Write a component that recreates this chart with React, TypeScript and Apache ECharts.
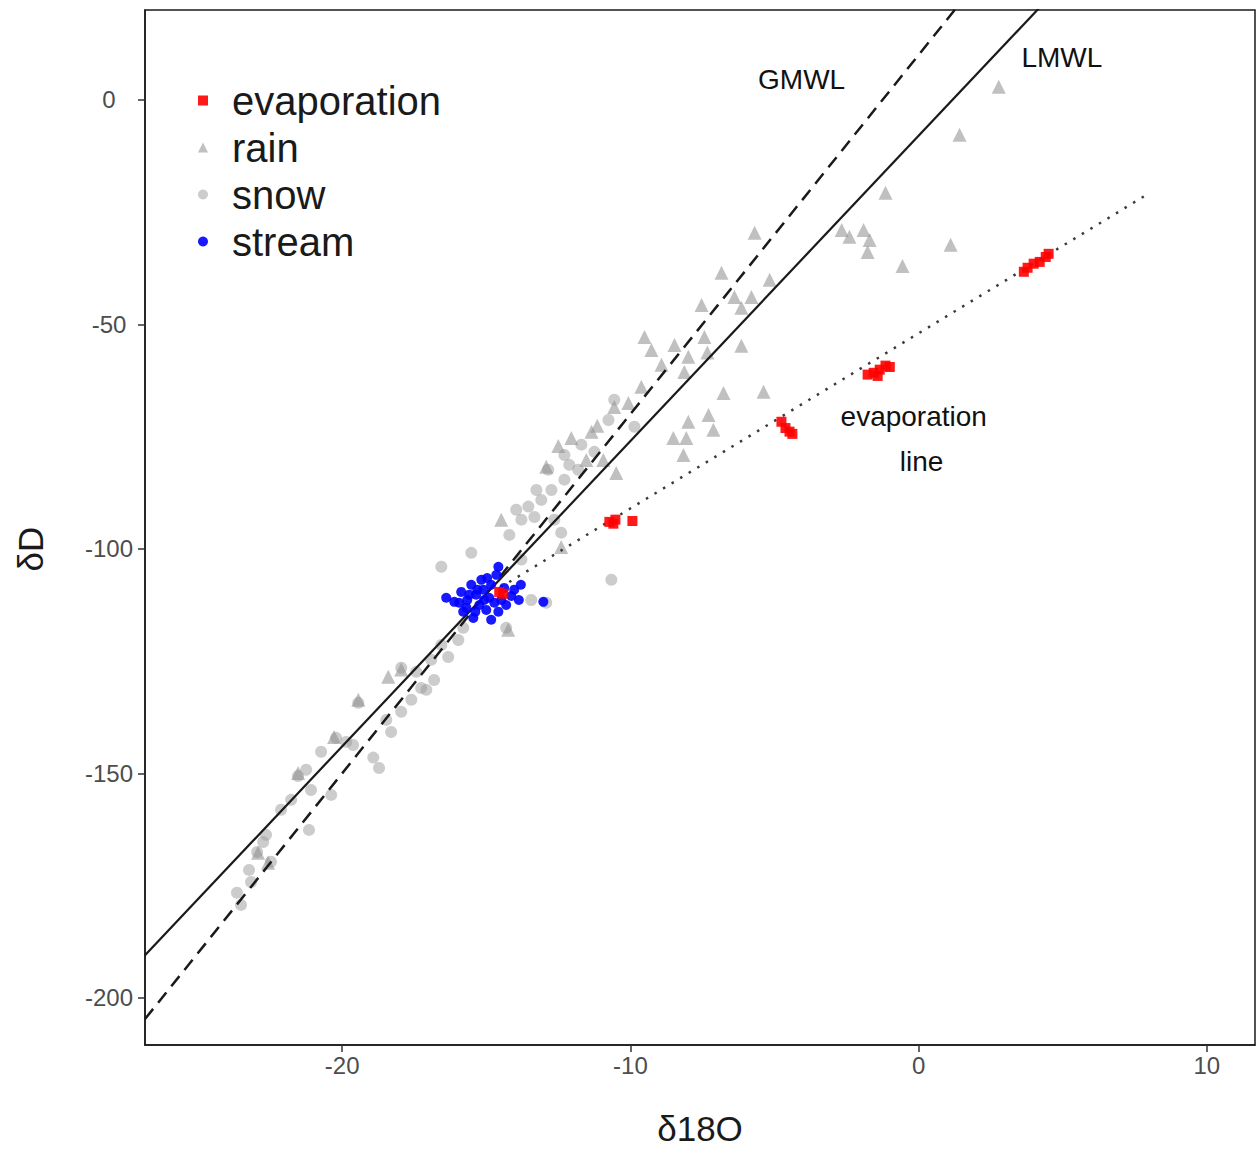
import React, { useEffect, useRef } from "react";
import * as echarts from "echarts";

// Axis ranges and tick positions
const xRange = [-26.84, 11.67];
const yRange = [-210.5, 20];
const xTicks = [-20, -10, 0, 10];
const yTicks = [0, -50, -100, -150, -200];

// Reference water lines (δD = slope * δ18O + intercept)
const gmwl = { slope: 8, intercept: 10 };
const lmwl = { slope: 6.8, intercept: -8 };
const evapLine = { slope: 3.9, intercept: -52, from: -14.5, to: 8 };

// Samples: [δ18O, δD]
const evaporation = [
  [3.65, -38.3], [3.78, -37.4], [3.99, -36.5], [4.2, -36.1], [4.41, -35.0], [4.51, -34.3],
  [-1.77, -61.2], [-1.56, -60.8], [-1.35, -60.1], [-1.15, -59.2], [-1.0, -59.5], [-1.42, -61.5],
  [-4.76, -71.7], [-4.62, -73.1], [-4.48, -73.9], [-4.38, -74.4],
  [-10.73, -94.0], [-10.59, -94.4], [-10.52, -93.5], [-9.93, -93.8],
  [-14.55, -109.6], [-14.41, -110.0],
];

const rain = [
  [2.78, 2.9], [1.42, -7.8], [-1.15, -20.7], [-2.67, -29.0], [-2.4, -30.5], [-1.91, -29.0],
  [-1.7, -31.2], [-1.77, -33.9], [1.11, -32.3], [-0.56, -37.0], [-5.69, -29.6], [-6.84, -38.5],
  [-5.17, -40.1], [-5.8, -43.9], [-6.15, -46.3], [-7.43, -52.8], [-8.47, -54.6], [-7.99, -57.2],
  [-9.51, -52.8], [-9.27, -55.7], [-8.13, -60.6], [-9.62, -63.9], [-10.56, -68.4], [-10.07, -67.5],
  [-6.77, -65.3], [-5.38, -65.0], [-7.29, -70.2], [-7.99, -71.7], [-7.12, -73.5], [-8.51, -75.3],
  [-8.06, -75.3], [-8.16, -79.1], [-10.49, -83.1], [-11.15, -72.6], [-11.35, -73.9], [-12.05, -75.3],
  [-12.5, -77.1], [-12.92, -81.7], [-10.94, -80.2], [-11.53, -80.2], [-12.4, -99.6], [-14.24, -118.0],
  [-14.48, -93.5], [-17.95, -126.9], [-18.4, -128.5], [-19.44, -133.6], [-20.28, -141.9], [-21.53, -149.9],
  [-22.92, -167.7], [-22.57, -169.9], [-6.15, -54.8], [-7.33, -56.3], [-8.92, -59.0], [-7.53, -45.7],
  [-6.39, -43.9],
];

const snow = [
  [-23.65, -176.6], [-23.51, -179.3], [-23.23, -171.5], [-22.95, -167.5], [-22.74, -165.3], [-22.47, -169.7],
  [-21.77, -155.9], [-21.53, -150.6], [-21.25, -149.2], [-21.15, -162.6], [-20.38, -154.8], [-20.21, -142.1],
  [-19.86, -143.0], [-19.44, -134.3], [-18.92, -146.5], [-18.72, -148.8], [-18.3, -140.8], [-17.95, -126.5],
  [-17.95, -136.3], [-17.26, -131.0], [-16.81, -129.2], [-16.32, -124.1], [-15.97, -120.3], [-16.56, -121.4],
  [-16.91, -124.7], [-15.8, -117.6], [-16.56, -104.0], [-15.52, -100.9], [-14.2, -96.9], [-13.54, -90.6],
  [-13.09, -89.1], [-13.33, -92.9], [-12.64, -93.5], [-12.4, -96.4], [-12.85, -82.4], [-12.29, -79.1],
  [-11.81, -82.4], [-12.29, -84.6], [-11.25, -78.4], [-11.7, -76.8], [-10.66, -106.9], [-13.44, -111.4],
  [-12.92, -112.0], [-14.31, -117.6], [-13.78, -93.5], [-13.96, -91.3], [-13.26, -86.9], [-12.74, -86.9],
  [-12.12, -81.3], [-17.43, -127.4], [-17.08, -131.4], [-17.6, -133.6], [-18.47, -138.1], [-19.62, -143.7],
  [-20.73, -145.2], [-21.08, -153.7], [-22.12, -158.1], [-22.64, -163.7], [-23.16, -174.2],
  [-10.76, -71.3], [-9.86, -72.8], [-10.56, -66.8], [-13.78, -102.4],
];

const stream = [
  [-16.39, -110.9], [-16.11, -111.8], [-15.94, -112.0], [-15.87, -109.6], [-15.8, -114.0], [-15.69, -113.1],
  [-15.66, -111.4], [-15.52, -108.0], [-15.45, -115.4], [-15.38, -114.0], [-15.35, -110.2], [-15.31, -109.1],
  [-15.24, -112.5], [-15.17, -106.9], [-15.1, -109.1], [-15.0, -113.6], [-14.97, -106.5], [-14.9, -110.9],
  [-14.83, -108.0], [-14.83, -115.8], [-14.72, -112.0], [-14.65, -105.8], [-14.58, -114.0], [-14.58, -104.0],
  [-14.48, -111.4], [-14.38, -108.7], [-14.31, -112.5], [-14.13, -110.5], [-14.03, -109.1], [-13.87, -111.4],
  [-13.8, -108.0], [-13.02, -111.8], [-15.59, -110.2], [-15.07, -111.4],
];

// Line labels placed in data coordinates
const lineLabels = [
  { name: "GMWL", value: [-4.06, 4.45] },
  { name: "LMWL", value: [4.97, 9.35] },
  { name: "evaporation", value: [-0.17, -70.6] },
  { name: "line", value: [0.1, -80.6] },
];

const FONT = "'Liberation Sans', Arial, Helvetica, sans-serif";

function lineEnds(slope: number, intercept: number, x0: number, x1: number) {
  return [
    [x0, slope * x0 + intercept],
    [x1, slope * x1 + intercept],
  ];
}

export default function App() {
  const ref = useRef<HTMLDivElement>(null);

  useEffect(() => {
    if (!ref.current) return;
    const chart = echarts.init(ref.current, null, { renderer: "svg" });

    const option: any = {
      animation: false,
      backgroundColor: "#ffffff",
      textStyle: { fontFamily: FONT },
      grid: {
        left: 145,
        top: 10,
        right: 3,
        bottom: 105,
        show: true,
        borderColor: "#1a1a1a",
        borderWidth: 1.5,
        backgroundColor: "transparent",
      },
      xAxis: {
        type: "value",
        min: xRange[0],
        max: xRange[1],
        splitLine: { show: false },
        axisLine: { show: true, onZero: false, lineStyle: { color: "#1a1a1a", width: 1.5 } },
        axisTick: { show: true, length: 7, customValues: xTicks, lineStyle: { color: "#333333", width: 1.5 } },
        axisLabel: {
          customValues: xTicks,
          fontSize: 24,
          color: "#4d4d4d",
          margin: 8,
          fontFamily: FONT,
        },
      },
      yAxis: {
        type: "value",
        min: yRange[0],
        max: yRange[1],
        splitLine: { show: false },
        axisLine: { show: true, onZero: false, lineStyle: { color: "#1a1a1a", width: 1.5 } },
        axisTick: { show: true, length: 7, customValues: yTicks, lineStyle: { color: "#333333", width: 1.5 } },
        axisLabel: {
          customValues: yTicks,
          fontSize: 24,
          color: "#4d4d4d",
          margin: 36,
          align: "center",
          fontFamily: FONT,
        },
      },
      legend: {
        orient: "vertical",
        left: 193,
        top: 72,
        itemWidth: 10,
        itemHeight: 10,
        itemGap: 0,
        textStyle: {
          fontSize: 40,
          color: "#1a1a1a",
          lineHeight: 47,
          padding: [0, 0, 0, 19],
          fontFamily: FONT,
        },
        data: [
          { name: "evaporation", icon: "rect" },
          { name: "rain", icon: "triangle" },
          { name: "snow", icon: "circle" },
          { name: "stream", icon: "circle" },
        ],
      },
      graphic: [
        {
          type: "text",
          x: 30,
          y: 549,
          rotation: Math.PI / 2,
          style: {
            text: "δD",
            fontSize: 35,
            fontFamily: FONT,
            fill: "#1a1a1a",
            align: "center",
            verticalAlign: "middle",
          },
        },
        {
          type: "text",
          x: 700,
          y: 1128,
          style: {
            text: "δ18O",
            fontSize: 35,
            fontFamily: FONT,
            fill: "#1a1a1a",
            align: "center",
            verticalAlign: "middle",
          },
        },
      ],
      series: [
        {
          name: "snow",
          type: "scatter",
          data: snow,
          symbol: "circle",
          symbolSize: 12,
          itemStyle: { color: "#9a9a9a", opacity: 0.5 },
          z: 2,
        },
        {
          name: "rain",
          type: "scatter",
          data: rain,
          symbol: "triangle",
          symbolSize: 14,
          itemStyle: { color: "#8c8c8c", opacity: 0.55 },
          z: 2,
        },
        {
          name: "GMWL",
          type: "line",
          data: lineEnds(gmwl.slope, gmwl.intercept, xRange[0], xRange[1]),
          symbol: "none",
          clip: true,
          lineStyle: { color: "#1a1a1a", width: 2.5, type: [13, 8] },
          z: 3,
        },
        {
          name: "LMWL",
          type: "line",
          data: lineEnds(lmwl.slope, lmwl.intercept, xRange[0], xRange[1]),
          symbol: "none",
          clip: true,
          lineStyle: { color: "#1a1a1a", width: 2.2 },
          z: 3,
        },
        {
          name: "evaporationLine",
          type: "line",
          data: lineEnds(evapLine.slope, evapLine.intercept, evapLine.from, evapLine.to),
          symbol: "none",
          clip: true,
          lineStyle: { color: "#3a3a3a", width: 2.5, type: [2.5, 7.5] },
          z: 3,
        },
        {
          name: "stream",
          type: "scatter",
          data: stream,
          symbol: "circle",
          symbolSize: 10,
          itemStyle: { color: "#0000ff", opacity: 0.9 },
          z: 4,
        },
        {
          name: "evaporation",
          type: "scatter",
          data: evaporation,
          symbol: "rect",
          symbolSize: 10,
          itemStyle: { color: "#ff0000", opacity: 0.9 },
          z: 5,
        },
        {
          name: "labels",
          type: "scatter",
          data: lineLabels,
          symbolSize: 0,
          silent: true,
          itemStyle: { opacity: 1 },
          label: {
            show: true,
            position: "inside",
            formatter: "{b}",
            fontSize: 28,
            color: "#111111",
            textBorderWidth: 0,
            fontFamily: FONT,
          },
          z: 6,
        },
      ],
    };

    chart.setOption(option);
    return () => chart.dispose();
  }, []);

  return (
    <div
      ref={ref}
      style={{ position: "absolute", left: 0, top: 0, width: 1258, height: 1150 }}
    />
  );
}
